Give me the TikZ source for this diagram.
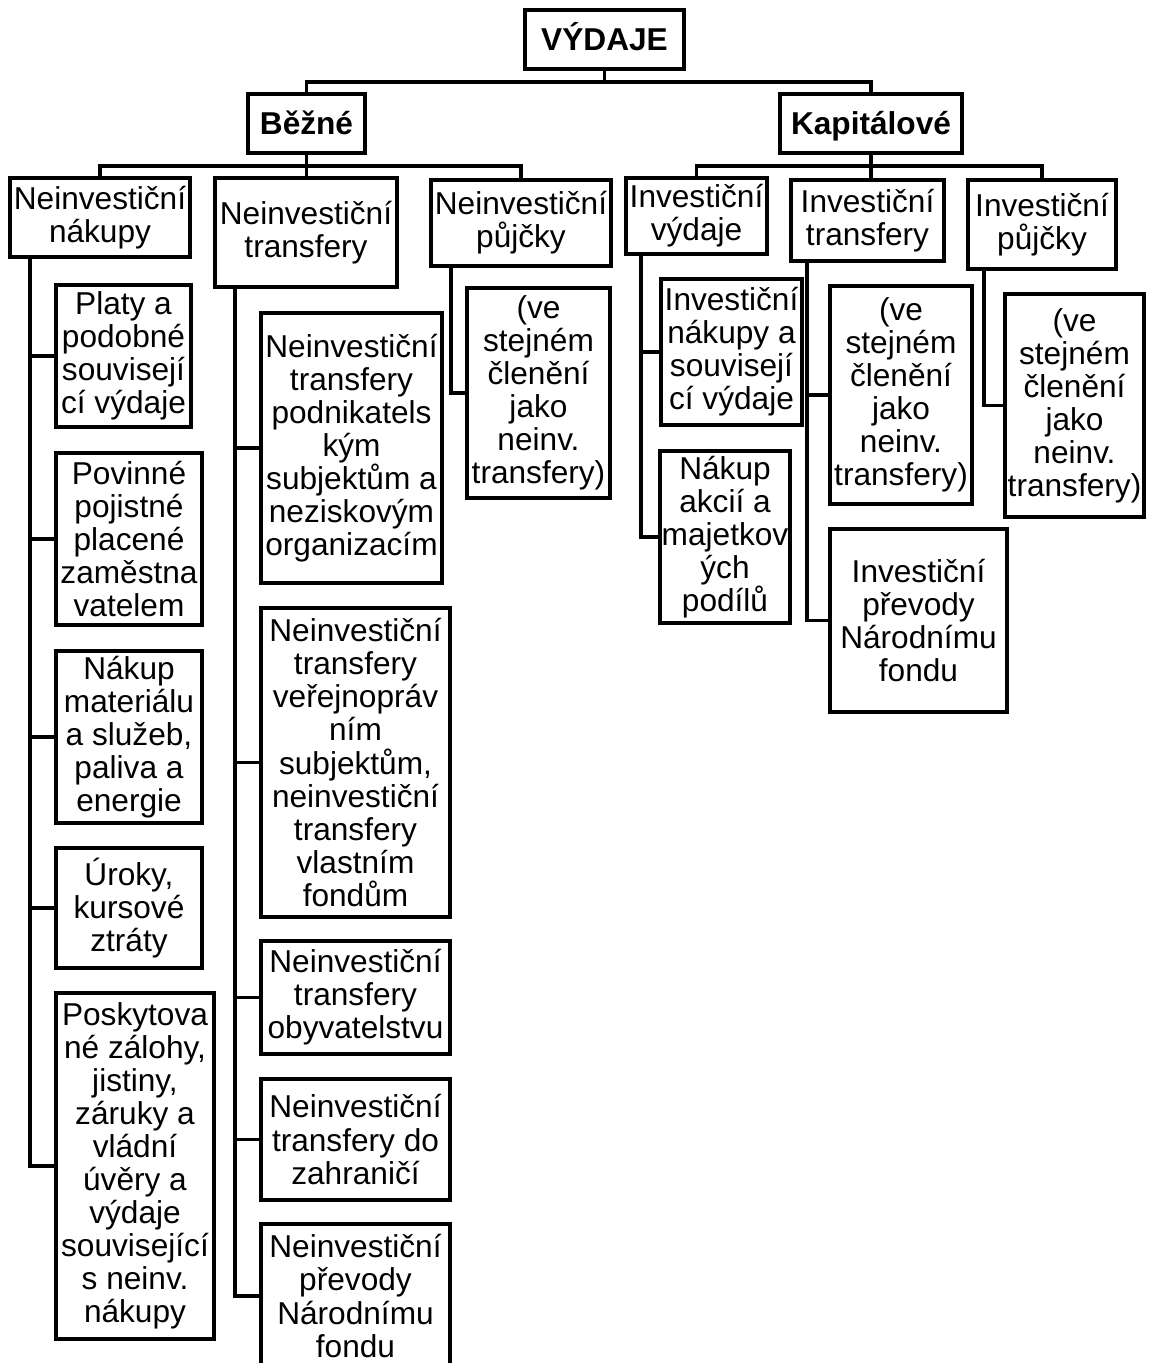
\documentclass[tikz,border=0pt]{standalone}
\usepackage{fontspec}
\setmainfont{Liberation Sans}

\tikzstyle{boxNode} = [rectangle, draw=black, line width=1.8pt, align=center, inner xsep=0.5pt, inner ysep=1pt, font=\fontsize{18}{18.8}\selectfont]
\tikzstyle{headNode} = [boxNode, minimum height=1.18cm, text height=15pt, text depth=2pt, font=\fontsize{18}{18.8}\selectfont\bfseries]
\tikzstyle{line} = [line width=1.8pt]

\begin{document}
\begin{tikzpicture}[x=0.02cm, y=-0.02cm]
    \useasboundingbox (0,0) rectangle (1150,1363);

    \node (vydaje)[headNode, minimum width=3.18cm] at (604.5,39.5) {VÝDAJE};
    \node (bezne)[headNode, minimum width=2.34cm] at (306.5,123.5) {Běžné};
    \node (kapital)[headNode, minimum width=3.64cm] at (871,123.5) {Kapitálové};

    \node (nnakupy)[boxNode, minimum width=3.6cm, minimum height=1.58cm] at (100,217.5) {Neinvestiční\\nákupy};
    \node (ntransfery)[boxNode, minimum width=3.64cm, minimum height=2.18cm] at (306,232.5) {Neinvestiční\\transfery};
    \node (npujcky)[boxNode, minimum width=3.6cm, minimum height=1.72cm] at (521,223) {Neinvestiční\\půjčky};
    \node (ivydaje)[boxNode, minimum width=2.82cm, minimum height=1.52cm] at (696.5,216) {Investiční\\výdaje};
    \node (itransfery)[boxNode, minimum width=3.06cm, minimum height=1.62cm] at (867.5,220.5) {Investiční\\transfery};
    \node (ipujcky)[boxNode, minimum width=2.96cm, minimum height=1.78cm] at (1042,224.5) {Investiční\\půjčky};

    \node (platy)[boxNode, minimum width=2.7cm, minimum height=2.84cm] at (123.5,356) {Platy a\\podobné\\souvisejí\\cí výdaje};
    \node (pojistne)[boxNode, minimum width=2.92cm, minimum height=3.44cm] at (129,539) {Povinné\\pojistné\\placené\\zaměstna\\vatelem};
    \node (material)[boxNode, minimum width=2.92cm, minimum height=3.44cm] at (129,737) {Nákup\\materiálu\\a služeb,\\paliva a\\energie};
    \node (uroky)[boxNode, minimum width=2.92cm, minimum height=2.4cm] at (129,908) {Úroky,\\kursové\\ztráty};
    \node (zalohy)[boxNode, minimum width=3.16cm, minimum height=6.92cm] at (135,1166) {Poskytova\\né zálohy,\\jistiny,\\záruky a\\vládní\\úvěry a\\výdaje\\související\\s neinv.\\nákupy};

    \node (tpodnik)[boxNode, minimum width=3.62cm, minimum height=5.4cm] at (351.5,448) {Neinvestiční\\transfery\\podnikatels\\kým\\subjektům a\\neziskovým\\organizacím};
    \node (tverej)[boxNode, minimum width=3.78cm, minimum height=6.18cm] at (355.5,762.5) {Neinvestiční\\transfery\\veřejnopráv\\ním\\subjektům,\\neinvestiční\\transfery\\vlastním\\fondům};
    \node (tobyv)[boxNode, minimum width=3.78cm, minimum height=2.26cm] at (355.5,997.5) {Neinvestiční\\transfery\\obyvatelstvu};
    \node (tzahr)[boxNode, minimum width=3.78cm, minimum height=2.42cm] at (355.5,1139.5) {Neinvestiční\\transfery do\\zahraničí};
    \node (tfond)[boxNode, minimum width=3.78cm, minimum height=2.88cm] at (355.5,1296) {Neinvestiční\\převody\\Národnímu\\fondu};

    \node (nclen)[boxNode, minimum width=2.86cm, minimum height=4.2cm] at (538.5,393) {(ve\\stejném\\členění\\jako\\neinv.\\transfery)};

    \node (inakupy)[boxNode, minimum width=2.82cm, minimum height=2.92cm] at (731.5,352) {Investiční\\nákupy a\\souvisejí\\cí výdaje};
    \node (iakcie)[boxNode, minimum width=2.6cm, minimum height=3.44cm] at (725,537) {Nákup\\akcií a\\majetkov\\ých\\podílů};

    \node (iclen)[boxNode, minimum width=2.84cm, minimum height=4.36cm] at (901,395) {(ve\\stejném\\členění\\jako\\neinv.\\transfery)};
    \node (ifond)[boxNode, minimum width=3.54cm, minimum height=3.66cm] at (918.5,620.5) {Investiční\\převody\\Národnímu\\fondu};

    \node (pclen)[boxNode, minimum width=2.78cm, minimum height=4.46cm] at (1074.5,405.5) {(ve\\stejném\\členění\\jako\\neinv.\\transfery)};

    \draw [line] (vydaje.south) -- (vydaje.south |- 0,82);
    \draw [line] (bezne.north) -- (bezne.north |- 0,82) -| (kapital.north);
    \draw [line] (bezne.south) -- (bezne.south |- ntransfery.north);
    \draw [line] (nnakupy.north) -- (nnakupy.north |- 0,166) -| (npujcky.north);
    \draw [line] (kapital.south) -- (kapital.south |- itransfery.north);
    \draw [line] (ivydaje.north) -- (ivydaje.north |- 0,166) -| (ipujcky.north);

    \foreach \c in {platy,pojistne,material,uroky,zalohy}
        \draw [line] (nnakupy.south -| 30,0) |- (\c.west);
    \foreach \c in {tpodnik,tverej,tobyv,tzahr,tfond}
        \draw [line] (ntransfery.south -| 235,0) |- (\c.west);
    \draw [line] (npujcky.south -| 451,0) |- (nclen.west);
    \foreach \c in {inakupy,iakcie}
        \draw [line] (ivydaje.south -| 641,0) |- (\c.west);
    \foreach \c in {iclen,ifond}
        \draw [line] (itransfery.south -| 807,0) |- (\c.west);
    \draw [line] (ipujcky.south -| 984,0) |- (pclen.west);

\end{tikzpicture}
\end{document}
